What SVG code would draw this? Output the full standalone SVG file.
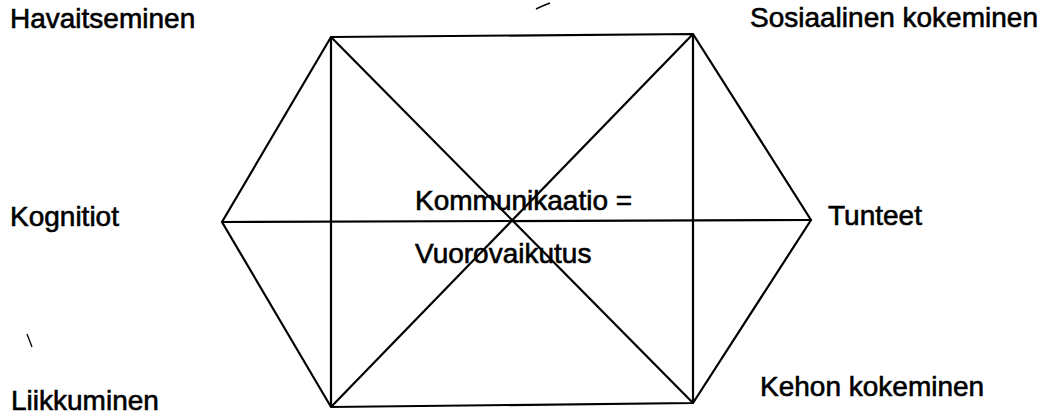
<svg xmlns="http://www.w3.org/2000/svg" width="1050" height="416" viewBox="0 0 1050 416">
<style>
.lbl{font-family:"Liberation Sans",Arial,sans-serif;font-size:28px;fill:#000;stroke:#000;stroke-width:0.6;}
.ln{stroke:#000;stroke-width:2.2;fill:none;stroke-linejoin:miter;}
</style>
<rect width="1050" height="416" fill="#fff"/>
<g id="connectors">
<polygon class="ln" points="331,37 693,34 811,220 693,403 331,407 222,222"/>
<line class="ln" x1="331" y1="37" x2="331" y2="407"/>
<line class="ln" x1="693" y1="34" x2="693" y2="403"/>
<line class="ln" x1="331" y1="37" x2="693" y2="403"/>
<line class="ln" x1="693" y1="34" x2="331" y2="407"/>
<line class="ln" x1="222" y1="222" x2="811" y2="220"/>
</g>
<g id="havaitseminen"><text class="lbl" x="10" y="28">Havaitseminen</text></g>
<g id="sosiaalinen"><text class="lbl" x="750" y="27">Sosiaalinen kokeminen</text></g>
<g id="kognitiot"><text class="lbl" x="10" y="226">Kognitiot</text></g>
<g id="tunteet"><text class="lbl" x="828" y="225">Tunteet</text></g>
<g id="liikkuminen"><text class="lbl" x="11" y="410">Liikkuminen</text></g>
<g id="kehon"><text class="lbl" x="760" y="396">Kehon kokeminen</text></g>
<g id="center"><text class="lbl" x="415" y="210">Kommunikaatio =</text><text class="lbl" x="415" y="263">Vuorovaikutus</text></g>
<path d="M536,9 Q542,6 550,3" stroke="#000" stroke-width="1.5" fill="none"/>
<path d="M27,334 L32,347" stroke="#000" stroke-width="1.3" fill="none"/>
</svg>
